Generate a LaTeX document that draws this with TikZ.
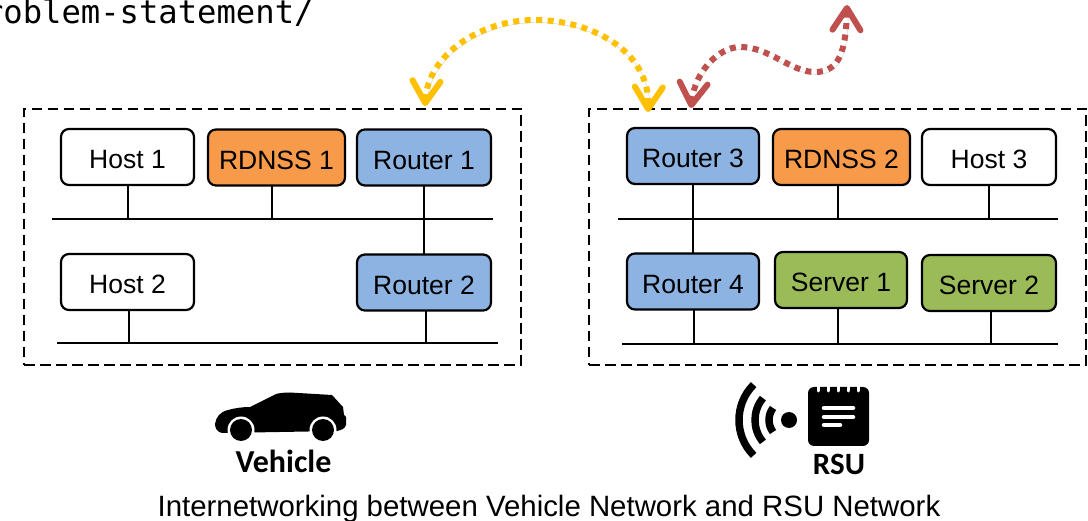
\documentclass[tikz,border=0pt]{standalone}
\usepackage{fontspec}
\setmainfont{Liberation Sans}
\newfontfamily\calib{Carlito}
\newfontfamily\menlo{DejaVu Sans Mono}
\usetikzlibrary{arrows.meta}
\definecolor{cOrange}{HTML}{F79A4A}
\definecolor{cBlue}{HTML}{8DB3E2}
\definecolor{cGreen}{HTML}{9BBB59}
\definecolor{cYellow}{HTML}{FFC000}
\definecolor{cRed}{HTML}{C0504D}
\tikzset{
  netbox/.style={draw=black,line width=2.2pt,rounded corners=8pt,minimum width=#1,minimum height=56pt,inner sep=0pt,
    text height=24pt,text depth=0pt,font=\fontsize{26.5}{30}\selectfont,outer sep=0pt},
  netbox/.default=133pt,
  link/.style={line width=2pt,draw=black},
  zone/.style={draw=black,line width=2.2pt,dash pattern=on 10.5pt off 5.5pt},
  hop/.style={line width=6pt,dash pattern=on 6pt off 5.5pt,
    {Straight Barb[length=22pt,width=28pt,line width=6pt,round]}-{Straight Barb[length=22pt,width=28pt,line width=6pt,round]},
    preaction={draw=black,opacity=.18,transform canvas={shift={(1.5pt,-2.5pt)}}}},
  lbl/.style={inner sep=0pt,outer sep=0pt,anchor=base}
}
\begin{document}
\begin{tikzpicture}[x=1pt,y=-1pt]
\useasboundingbox (0,0) rectangle (1088,521);
\clip (0,0) rectangle (1088,521);
\fill[white] (0,0) rectangle (1088,521);

\node[lbl,anchor=base west] (url) at (-16,23.5) {\menlo\fontsize{32.2}{36}\selectfont roblem-statement/};

% zones
\node[zone,minimum width=497pt,minimum height=256pt,inner sep=0pt] (zoneV) at (272.5,237) {};
\node[zone,minimum width=497pt,minimum height=256pt,inner sep=0pt] (zoneR) at (837.5,237) {};

% boxes
\node[netbox] (host1) at (127.5,157) {Host 1};
\node[netbox=137pt,fill=cOrange] (rdnss1) at (276.5,157.5) {RDNSS 1};
\node[netbox=134pt,fill=cBlue] (router1) at (424,157.5) {Router 1};
\node[netbox] (host2) at (127.5,282) {Host 2};
\node[netbox=134pt,fill=cBlue] (router2) at (424,282.5) {Router 2};
\node[netbox=132pt,fill=cBlue] (router3) at (693,156) {Router 3};
\node[netbox=137pt,fill=cOrange] (rdnss2) at (841.5,157) {RDNSS 2};
\node[netbox=134pt] (host3) at (989,157) {Host 3};
\node[netbox=132pt,fill=cBlue] (router4) at (693,281.5) {Router 4};
\node[netbox=132pt,fill=cGreen] (server1) at (841,280) {Server 1};
\node[netbox=134pt,fill=cGreen] (server2) at (989,283) {Server 2};

% buses
\coordinate (busAl) at (52,219);  \coordinate (busAr) at (493,219);
\coordinate (busBl) at (57,343);  \coordinate (busBr) at (498,343);
\coordinate (busCl) at (618,219); \coordinate (busCr) at (1058,219);
\coordinate (busDl) at (622,344); \coordinate (busDr) at (1058,344);
\draw[link] (busAl) -- (busAr);
\draw[link] (busBl) -- (busBr);
\draw[link] (busCl) -- (busCr);
\draw[link] (busDl) -- (busDr);

% drops
\draw[link] (host1.south) -- (host1.south |- busAl);
\draw[link] ([xshift=-4.5pt]rdnss1.south) -- ([xshift=-4.5pt]rdnss1.south |- busAl);
\draw[link] (router1.south) -- (router2.north);
\draw[link] ([xshift=1.5pt]host2.south) -- ([xshift=1.5pt]host2.south |- busBl);
\draw[link] ([xshift=2pt]router2.south) -- ([xshift=2pt]router2.south |- busBl);
\draw[link] (router3.south) -- (router4.north);
\draw[link] ([xshift=-3.5pt]rdnss2.south) -- ([xshift=-3.5pt]rdnss2.south |- busCl);
\draw[link] (host3.south) -- (host3.south |- busCl);
\draw[link] ([xshift=1pt]router4.south) -- ([xshift=1pt,yshift=1pt]router4.south |- busDl);
\draw[link] ([xshift=-3pt]server1.south) -- ([xshift=-3pt]server1.south |- busDl);
\draw[link] ([xshift=2pt]server2.south) -- ([xshift=2pt]server2.south |- busDl);

% tunnels
\coordinate (yA) at (425,106);
\coordinate (yB) at (648,112);
\coordinate (rA) at (691,108);
\coordinate (rB) at (847,5);
\draw[hop,draw=cYellow] (yA) .. controls (428,55) and (480,20) .. (535,20)
   .. controls (590,20) and (650,50) .. (yB);
\draw[hop,draw=cRed] (rA) .. controls (695,70) and (720,47) .. (740,47)
   .. controls (770,47) and (790,72) .. (815,72)
   .. controls (840,72) and (846,50) .. (rB);

% car
\fill[black] (215,424) .. controls (216,417) and (220,412) .. (228,410)
  .. controls (235,408) and (243,407) .. (250,407)
  -- (276,394) .. controls (280,393) and (284,392.5) .. (290,392.5)
  -- (332,395) -- (343,407) -- (344,415) -- (346,417) -- (346,425)
  .. controls (345,429) and (341,430) .. (337,431)
  -- (222,433) .. controls (217,432) and (215,428) .. (215,424) -- cycle;
\fill[white] (241,430) circle (13.5);
\fill[white] (323,430) circle (13.5);
\fill[white] (225,434) rectangle (340,445);
\fill[black] (241,430) circle (11);
\fill[black] (323,430) circle (11);
\node[lbl] (vehicle) at (283.5,472) {\calib\bfseries\fontsize{32}{36}\selectfont Vehicle};

% rsu icon
\fill[black] (789,420) circle (8);
\draw[black,line width=7.5pt] (789,420) ++(217:20) arc[start angle=217,end angle=143,radius=20];
\draw[black,line width=7.5pt] (789,420) ++(220:34) arc[start angle=220,end angle=140,radius=34];
\draw[black,line width=7.5pt] (789,420) ++(225:50) arc[start angle=225,end angle=135,radius=50];
\fill[black,rounded corners=6pt] (808,387) rectangle (869,446);
\foreach \tx in {818,828,838,848,858}
  \draw[white,line width=3pt,line cap=round] (\tx,385) -- (\tx,391);
\draw[white,line width=4.5pt,line cap=round] (824,408) -- (853,408);
\draw[white,line width=4.5pt,line cap=round] (824,417) -- (853,417);
\draw[white,line width=4.5pt,line cap=round] (824,425) -- (840,425);
\node[lbl] (rsu) at (839,475) {\calib\bfseries\fontsize{31}{35}\selectfont RSU};

\node[lbl] (caption) at (549,516) {\fontsize{29.4}{33}\selectfont Internetworking between Vehicle Network and RSU Network};
\end{tikzpicture}
\end{document}
